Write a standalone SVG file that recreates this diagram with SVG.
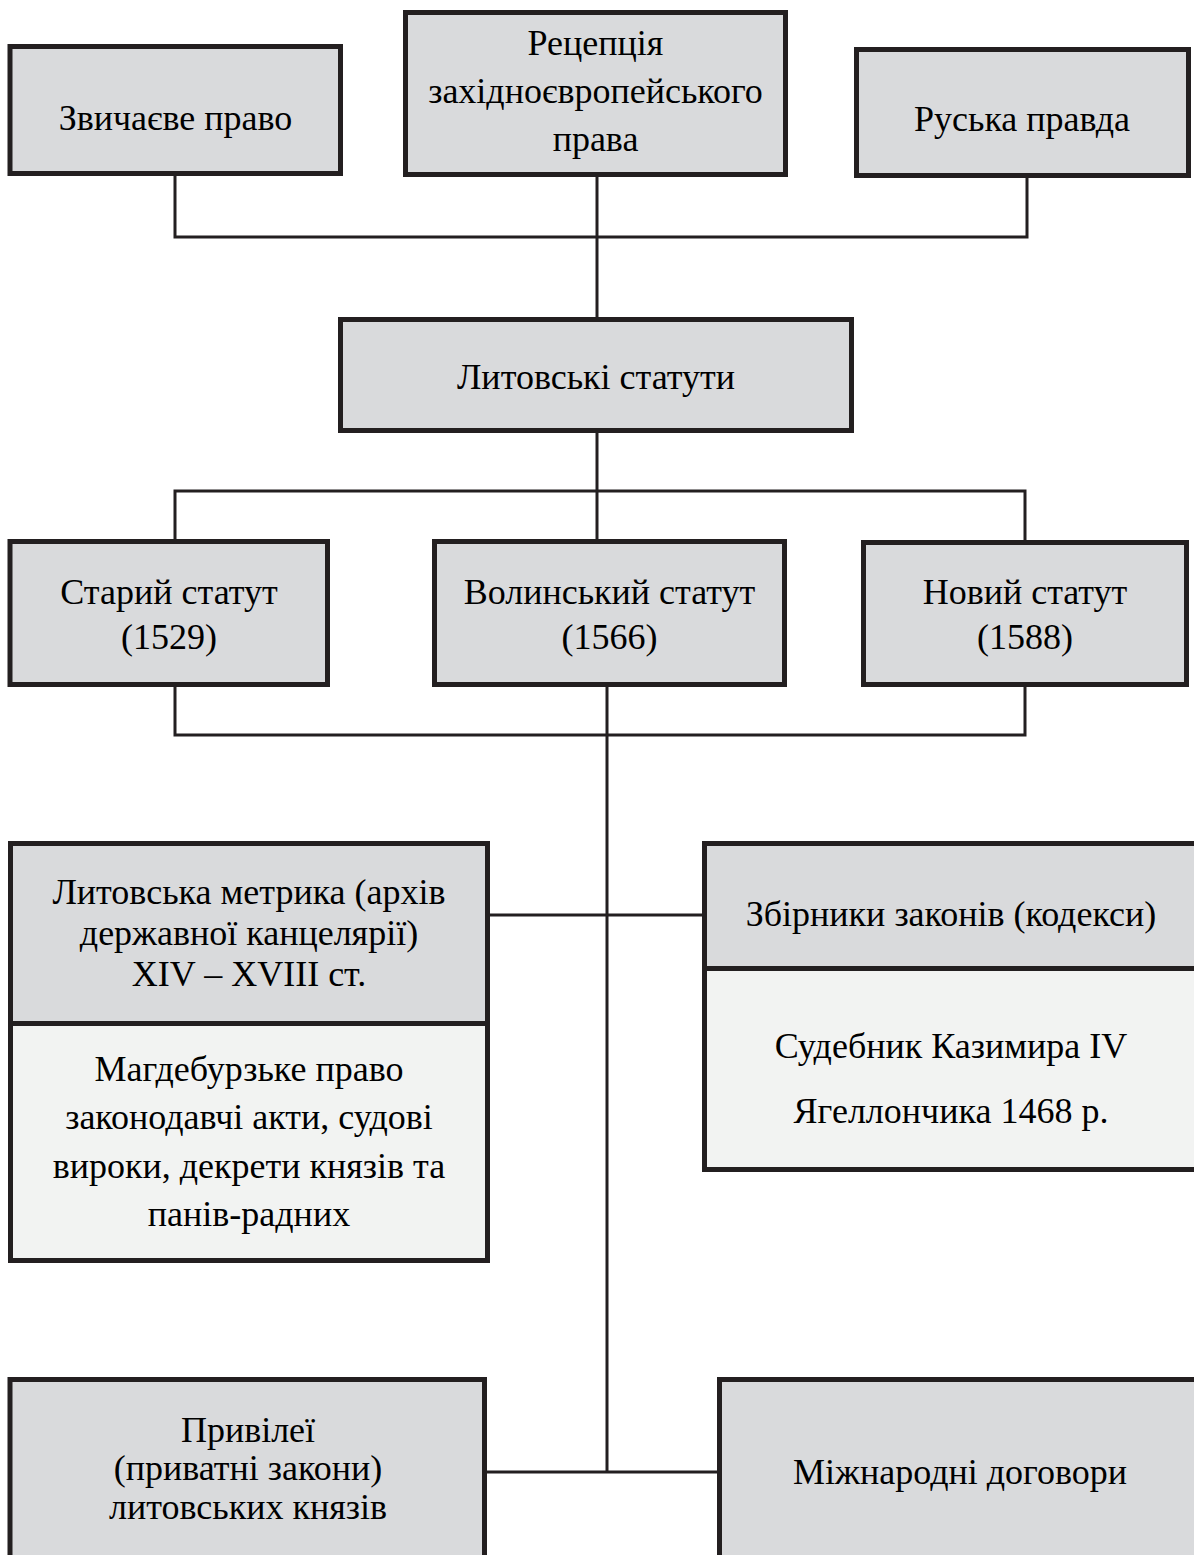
<svg xmlns="http://www.w3.org/2000/svg" width="1194" height="1555" viewBox="0 0 1194 1555">
<style>
.box{fill:#d9dadc;stroke:#231f20;stroke-width:5}
.lite{fill:#f2f3f2;stroke:#231f20;stroke-width:5}
.con{fill:none;stroke:#231f20;stroke-width:3}
text{font-family:"Liberation Serif","Times New Roman",serif;font-size:36px;fill:#000;text-anchor:middle}
</style>
<rect width="1194" height="1555" fill="#fff"/>
<g id="connectors">
<polyline class="con" points="175,176 175,237 1027,237 1027,178"/>
<line class="con" x1="597" y1="177" x2="597" y2="317"/>
<line class="con" x1="597" y1="433" x2="597" y2="539"/>
<polyline class="con" points="175,539 175,491 1025,491 1025,540"/>
<polyline class="con" points="175,687 175,735 1025,735 1025,687"/>
<line class="con" x1="607" y1="687" x2="607" y2="1472"/>
<line class="con" x1="490" y1="915" x2="702" y2="915"/>
<line class="con" x1="487" y1="1472" x2="717" y2="1472"/>
</g>
<g id="n1"><rect class="box" x="10" y="46.5" width="330.5" height="127"/><text x="175.5" y="130">Звичаєве право</text></g>
<g id="n2"><rect class="box" x="405.5" y="12.5" width="380" height="162"/><text x="595.5" y="55">Рецепція</text><text x="595.5" y="103">західноєвропейського</text><text x="595.5" y="151">права</text></g>
<g id="n3"><rect class="box" x="856.5" y="49.5" width="332" height="126"/><text x="1022" y="131">Руська правда</text></g>
<g id="n4"><rect class="box" x="340.5" y="319.5" width="511" height="111"/><text x="596" y="389">Литовські статути</text></g>
<g id="n5"><rect class="box" x="10" y="541.5" width="317.5" height="143"/><text x="169" y="604">Старий статут</text><text x="169" y="649">(1529)</text></g>
<g id="n6"><rect class="box" x="434.5" y="541.5" width="350" height="143"/><text x="609.5" y="604">Волинський статут</text><text x="609.5" y="649">(1566)</text></g>
<g id="n7"><rect class="box" x="863.5" y="542.5" width="323" height="142"/><text x="1025" y="604">Новий статут</text><text x="1025" y="649">(1588)</text></g>
<g id="n8"><rect class="box" x="10.5" y="843.5" width="477" height="180"/><rect class="lite" x="10.5" y="1023.5" width="477" height="237"/>
<text x="249" y="904">Литовська метрика (архів</text><text x="249" y="945">державної канцелярії)</text><text x="249" y="986">XIV – XVIII ст.</text>
<text x="249" y="1081">Магдебурзьке право</text><text x="249" y="1129">законодавчі акти, судові</text><text x="249" y="1178">вироки, декрети князів та</text><text x="249" y="1226">панів-радних</text></g>
<g id="n9"><rect class="box" x="704.5" y="843.5" width="495" height="125"/><rect class="lite" x="704.5" y="968.5" width="495" height="201"/>
<text x="951" y="926">Збірники законів (кодекси)</text><text x="951" y="1058">Судебник Казимира IV</text><text x="951" y="1123">Ягеллончика 1468 р.</text></g>
<g id="n10"><rect class="box" x="10" y="1379.5" width="474.5" height="190"/><text x="248" y="1442">Привілеї</text><text x="248" y="1480">(приватні закони)</text><text x="248" y="1519">литовських князів</text></g>
<g id="n11"><rect class="box" x="719.5" y="1379.5" width="480" height="190"/><text x="960" y="1484">Міжнародні договори</text></g>
</svg>
